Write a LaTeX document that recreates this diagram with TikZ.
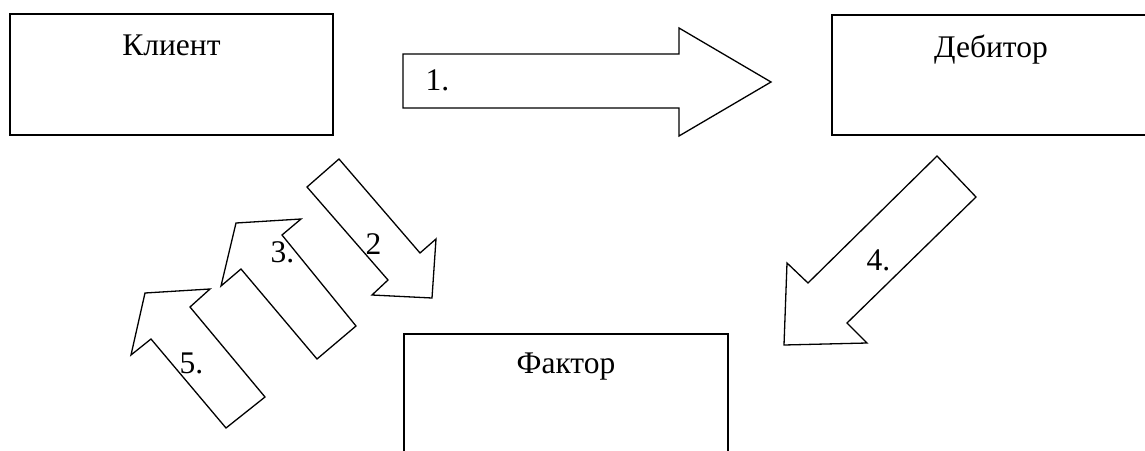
\documentclass[tikz,border=0pt]{standalone}
\usepackage{fontspec}
\setmainfont{Liberation Serif}
\begin{document}
\begin{tikzpicture}[x=1pt,y=-1pt,line width=1.3pt,line join=miter,
  lbl/.style={font=\fontsize{31.5}{38}\selectfont,inner sep=0pt},
  blockarrow/.style={draw=black,fill=white},
  frame/.style={draw=black}]
\useasboundingbox (0,0) rectangle (1145,450);
\clip (0,0) rectangle (1145,450);

% participants
\draw[frame] (10,14) rectangle (333,135);
\draw[frame] (832,15) rectangle (1160,135);
\draw[frame] (404,334) rectangle (728,470);

% 1: client -> debtor
\draw[blockarrow] (403,54) -- (679,54) -- (679,28) -- (771,82)
  -- (679,136) -- (679,108) -- (403,108) -- cycle;
% 2: client -> factor
\draw[blockarrow] (339,159) -- (420,253) -- (436,239) -- (432,298)
  -- (372,295) -- (388,280) -- (307,187) -- cycle;
% 3: factor -> client
\draw[blockarrow] (236,223) -- (301,219) -- (282,235) -- (356,326)
  -- (317,359) -- (241,269) -- (221,286) -- cycle;
% 5: factor -> client
\draw[blockarrow] (145,293) -- (210,289) -- (190,307) -- (265,397)
  -- (226,428) -- (151,339) -- (131,355) -- cycle;
% 4: debtor -> factor
\draw[blockarrow] (937,156) -- (976,197) -- (847,323) -- (867,343)
  -- (784,345) -- (787,263) -- (808,283) -- cycle;

% labels
\node[lbl,anchor=base] (klient) at (171.5,55.7) {Клиент};
\node[lbl,anchor=base] (debitor) at (991,57) {Дебитор};
\node[lbl,anchor=base] (faktor) at (566,373) {Фактор};
\node[lbl,anchor=base west] (n1) at (425,90.7) {1.};
\node[lbl,anchor=base west] (n2) at (365,254) {2};
\node[lbl,anchor=base west] (n3) at (270,262) {3.};
\node[lbl,anchor=base west] (n4) at (866,270) {4.};
\node[lbl,anchor=base west] (n5) at (179,373) {5.};
\end{tikzpicture}
\end{document}
